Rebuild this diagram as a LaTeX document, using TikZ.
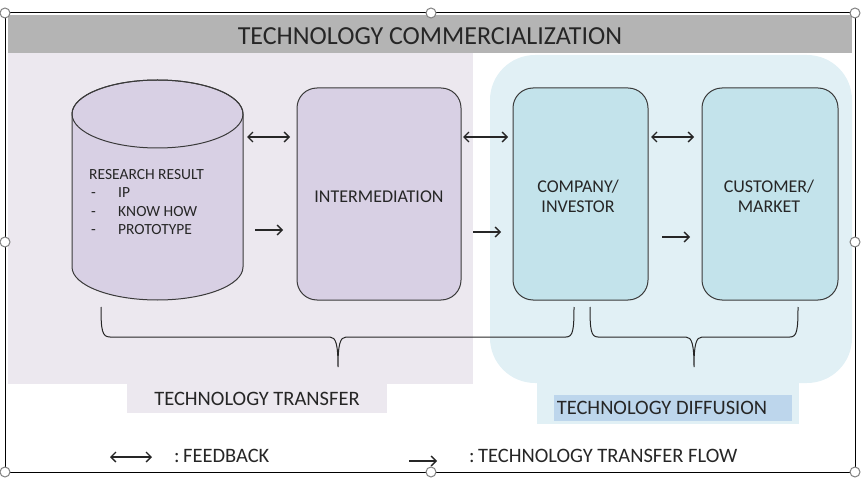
\documentclass[tikz,border=0pt]{standalone}
\usepackage{fontspec}
\setmainfont{Carlito}
\usetikzlibrary{arrows.meta}
\definecolor{titlegray}{HTML}{B4B4B4}
\definecolor{lavbg}{HTML}{ECE8EF}
\definecolor{lavbox}{HTML}{D8D0E4}
\definecolor{bluebg}{HTML}{E1F0F5}
\definecolor{bluebox}{HTML}{C3E3EB}
\definecolor{blueinner}{HTML}{BDD6EC}
\definecolor{inkc}{HTML}{262626}
\definecolor{edgec}{HTML}{3A3A3A}
\begin{document}
\begin{tikzpicture}[x=1pt,y=-1pt,
  txt/.style={text=inkc, inner sep=0pt, font=\fontsize{20.5}{22}\selectfont},
  rbox/.style={draw=edgec, line width=1pt, rounded corners=20pt, align=center,
     text=inkc, font=\fontsize{18}{20}\selectfont},
  fb/.style={draw=inkc, line width=1.4pt, {Straight Barb[length=5pt,width=10pt]}-{Straight Barb[length=5pt,width=10pt]}},
  flow/.style={draw=inkc, line width=1.4pt, -{Straight Barb[length=5pt,width=10pt]}},
  brace/.style={draw=inkc, line width=1pt},
  handle/.style={circle, draw=gray, fill=white, line width=1pt, minimum size=10pt, inner sep=0pt}]
\useasboundingbox (0,0) rectangle (867,486);
% backgrounds
\fill[lavbg] (8,53) rectangle (473,384);
\fill[lavbg] (127,384) rectangle (387,413);
\fill[bluebg, rounded corners=45pt] (490,55) rectangle (852,383);
\fill[bluebg] (537,378) rectangle (799,424);
\fill[blueinner] (554,395) rectangle (792,421);
\fill[titlegray] (8,15) rectangle (852,53);
\node[txt, font=\fontsize{26}{28}\selectfont] (title) at (430,36) {TECHNOLOGY COMMERCIALIZATION};
% cylinder
\filldraw[draw=edgec, line width=1pt, fill=lavbox]
  (72,114) -- (72,267) arc[start angle=180, end angle=0, x radius=85.5, y radius=33]
  -- (243,114) arc[start angle=0, end angle=-180, x radius=85.5, y radius=34] -- cycle;
\draw[edgec, line width=1pt] (157.5,114) ellipse[x radius=85.5, y radius=34];
\node[txt, anchor=north west, align=left, font=\fontsize{15.5}{18.5}\selectfont] (rr) at (89,169)
  {RESEARCH RESULT\\
   \makebox[29pt][l]{\hspace{2pt}-}IP\\
   \makebox[29pt][l]{\hspace{2pt}-}KNOW HOW\\
   \makebox[29pt][l]{\hspace{2pt}-}PROTOTYPE};
% boxes
\node[rbox, fill=lavbox, minimum width=164pt, minimum height=212pt] (inter) at (379,194) {};
\node[txt, font=\fontsize{18}{20}\selectfont] (intert) at (379,197) {INTERMEDIATION};
\node[rbox, fill=bluebox, minimum width=135pt, minimum height=212pt] (comp) at (580.5,194) {};
\node[txt, align=center, font=\fontsize{18}{20}\selectfont] (compt) at (578,196) {COMPANY/\\INVESTOR};
\node[rbox, fill=bluebox, minimum width=136pt, minimum height=212pt] (cust) at (770,194) {};
\node[txt, align=center, font=\fontsize{18}{20}\selectfont] (custt) at (769,196) {CUSTOMER/\\MARKET};
% arrow end points
\coordinate (f1a) at (247,137); \coordinate (f1b) at (290,137);
\coordinate (f2a) at (463,137); \coordinate (f2b) at (508,137);
\coordinate (f3a) at (651,137); \coordinate (f3b) at (694,137);
\coordinate (t1a) at (255,230); \coordinate (t1b) at (283,230);
\coordinate (t2a) at (473,232); \coordinate (t2b) at (501,232);
\coordinate (t3a) at (662,237); \coordinate (t3b) at (690,237);
\draw[fb] (f1a) -- (f1b);
\draw[fb] (f2a) -- (f2b);
\draw[fb] (f3a) -- (f3b);
\draw[flow] (t1a) -- (t1b);
\draw[flow] (t2a) -- (t2b);
\draw[flow] (t3a) -- (t3b);
% braces
\draw[brace] (101,307) .. controls (101,330) and (102,337) .. (110,337) -- (330,337)
  .. controls (336,337) and (338,345) .. (338,367)
  .. controls (338,345) and (340,337) .. (346,337) -- (566,337)
  .. controls (573,337) and (574,330) .. (574,307);
\draw[brace] (590,307) .. controls (590,330) and (591,337) .. (598,337) -- (686,337)
  .. controls (692,337) and (694,345) .. (694,367)
  .. controls (694,345) and (696,337) .. (702,337) -- (790,337)
  .. controls (797,337) and (798,330) .. (798,307);
% labels
\node[txt] (tt) at (257,399) {TECHNOLOGY TRANSFER};
\node[txt] (td) at (662,408) {TECHNOLOGY DIFFUSION};
% legend
\coordinate (l1a) at (110,457); \coordinate (l1b) at (152,457);
\coordinate (l2a) at (409,461); \coordinate (l2b) at (437,461);
\draw[fb] (l1a) -- (l1b);
\draw[flow] (l2a) -- (l2b);
\node[txt, anchor=west] (lg1) at (174,456) {:\,FEEDBACK};
\node[txt, anchor=west] (lg2) at (469,456) {:\,TECHNOLOGY TRANSFER FLOW};
% selection frame
\draw[black, line width=1pt] (5,13) rectangle (855,472);
\foreach \p/\n in {{(5,13)}/h1,{(431,13)}/h2,{(855,13)}/h3,{(5,242)}/h4,{(855,242)}/h5,{(5,472)}/h6,{(431,472)}/h7,{(855,472)}/h8}
  \node[handle] (\n) at \p {};
\end{tikzpicture}
\end{document}
